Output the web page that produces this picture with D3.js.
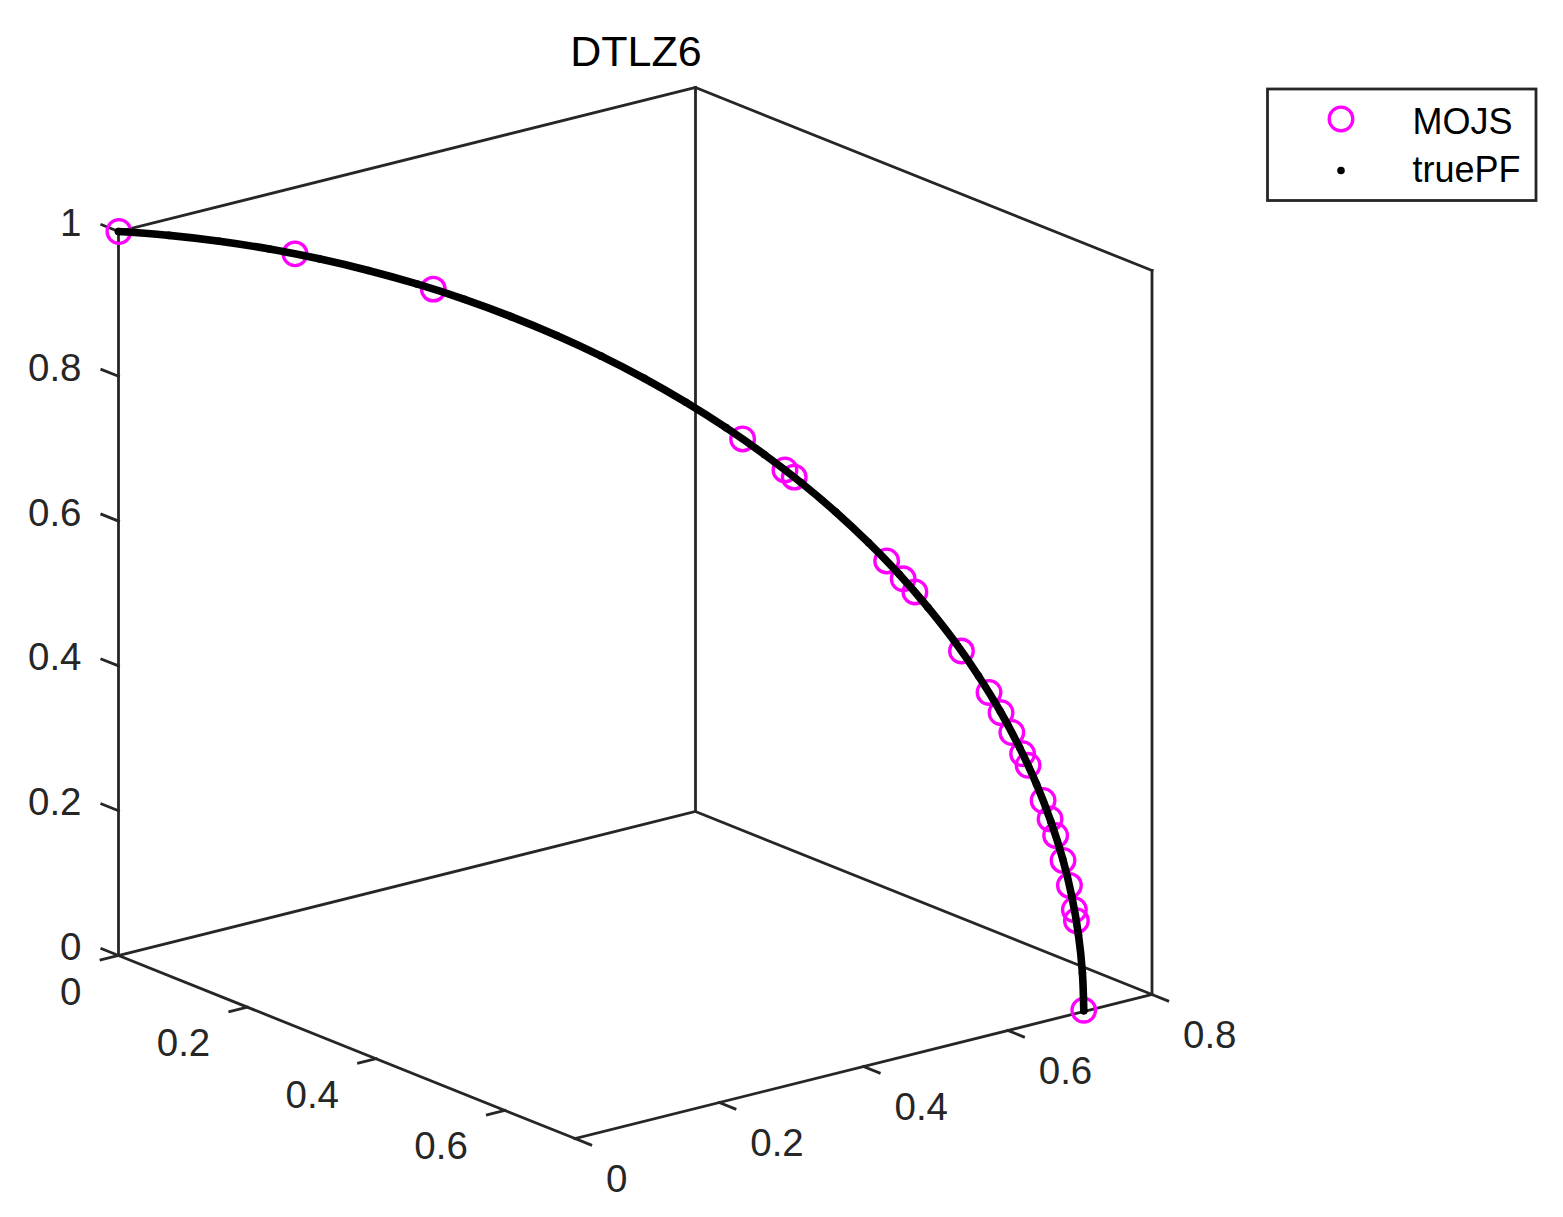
<!DOCTYPE html>
<html><head><meta charset="utf-8">
<script src="https://cdn.jsdelivr.net/npm/d3@7"></script>
<style>
body{margin:0;background:#fff}
svg{display:block}
text{font-family:"Liberation Sans",Arial,sans-serif}
</style>
</head><body>
<svg id="c" width="1563" height="1217"></svg>
<script>
// ---------------- data ----------------
const title = "DTLZ6";
const seriesNames = ["MOJS", "truePF"];
const xLim = [0, 0.709], yLim = [0, 0.8], zLim = [0, 1];
const xTicks = [0, 0.2, 0.4, 0.6];
const xTickLabels = ["0", "0.2", "0.4", "0.6"];
const yTicks = [0, 0.2, 0.4, 0.6, 0.8];
const yTickLabels = ["0", "0.2", "0.4", "0.6", "0.8"];
const zTicks = [0, 0.2, 0.4, 0.6, 0.8, 1];
const zTickLabels = ["0", "0.2", "0.4", "0.6", "0.8", "1"];

const mojsF1 = [0.0003,0.1293,0.2306,0.4572,0.4882,0.4950,0.5627,0.5748,0.5834,0.6175,0.6377,0.6465,0.6544,0.6623,0.6663,0.6773,0.6824,0.6865,0.6919,0.6966,0.7002,0.7017,0.7071];
const mojsF2 = [0.0003,0.1293,0.2306,0.4572,0.4882,0.4950,0.5627,0.5748,0.5834,0.6175,0.6377,0.6465,0.6544,0.6623,0.6663,0.6773,0.6824,0.6865,0.6919,0.6966,0.7002,0.7017,0.7071];
const mojsF3 = [1.0000,0.9831,0.9453,0.7628,0.7234,0.7141,0.6057,0.5823,0.5651,0.4871,0.4321,0.4051,0.3786,0.3502,0.3346,0.2872,0.2623,0.2399,0.2060,0.1720,0.1388,0.1238,0.0007];

const pfF1 = [0.7071,0.7061,0.7032,0.6984,0.6917,0.6830,0.6725,0.6601,0.6460,0.6300,0.6124,0.5930,0.5721,0.5495,0.5255,0.5000,0.4731,0.4450,0.4156,0.3851,0.3536,0.3210,0.2876,0.2534,0.2185,0.1830,0.1470,0.1106,0.0739,0.0370,0.0000];
const pfF2 = [0.7071,0.7061,0.7032,0.6984,0.6917,0.6830,0.6725,0.6601,0.6460,0.6300,0.6124,0.5930,0.5721,0.5495,0.5255,0.5000,0.4731,0.4450,0.4156,0.3851,0.3536,0.3210,0.2876,0.2534,0.2185,0.1830,0.1470,0.1106,0.0739,0.0370,0.0000];
const pfF3 = [0.0000,0.0523,0.1045,0.1564,0.2079,0.2588,0.3090,0.3584,0.4067,0.4540,0.5000,0.5446,0.5878,0.6293,0.6691,0.7071,0.7431,0.7771,0.8090,0.8387,0.8660,0.8910,0.9135,0.9336,0.9511,0.9659,0.9781,0.9877,0.9945,0.9986,1.0000];

// ---------------- layout ----------------
const origin = [118.5, 955.5];
const xEdge = [456.5, 183];   // screen vector of full x range
const yEdge = [577, -144];    // screen vector of full y range
const zEdge = [0, -724];      // screen vector of full z range
const axisColor = "#262626";
const fontSize = 38.5;

const svg = d3.select("#c");
svg.append("rect").attr("width",1563).attr("height",1217).attr("fill","#fff");

const sx = d3.scaleLinear().domain(xLim).range([0, 1]);
const sy = d3.scaleLinear().domain(yLim).range([0, 1]);
const sz = d3.scaleLinear().domain(zLim).range([0, 1]);

function proj(a, b, c) {
  const fa = sx(a), fb = sy(b), fc = sz(c);
  return [origin[0] + fa*xEdge[0] + fb*yEdge[0] + fc*zEdge[0],
          origin[1] + fa*xEdge[1] + fb*yEdge[1] + fc*zEdge[1]];
}
function unit(v){ const l = Math.hypot(v[0], v[1]); return [v[0]/l, v[1]/l]; }
const uX = unit(xEdge), uY = unit(yEdge);

const g = svg.append("g");
function seg(p, q, w) {
  g.append("line").attr("x1",p[0]).attr("y1",p[1]).attr("x2",q[0]).attr("y2",q[1])
    .attr("stroke",axisColor).attr("stroke-width",w||2.8).attr("stroke-linecap","square");
}
const X0=xLim[0], X1=xLim[1], Y0=yLim[0], Y1=yLim[1], Z0=zLim[0], Z1=zLim[1];
// bottom plane
seg(proj(X0,Y0,Z0), proj(X1,Y0,Z0));
seg(proj(X1,Y0,Z0), proj(X1,Y1,Z0));
seg(proj(X1,Y1,Z0), proj(X0,Y1,Z0));
seg(proj(X0,Y1,Z0), proj(X0,Y0,Z0));
// verticals
seg(proj(X0,Y0,Z0), proj(X0,Y0,Z1));
seg(proj(X0,Y1,Z0), proj(X0,Y1,Z1));
seg(proj(X1,Y1,Z0), proj(X1,Y1,Z1));
// top edges of back planes
seg(proj(X0,Y0,Z1), proj(X0,Y1,Z1));
seg(proj(X0,Y1,Z1), proj(X1,Y1,Z1));

const tickLen = 18;
// x ticks (along x axis at y=0,z=0), pointing -y
xTicks.forEach((t,i) => {
  const p = proj(t, Y0, Z0);
  seg(p, [p[0]-uY[0]*tickLen, p[1]-uY[1]*tickLen]);
  g.append("text").attr("x", p[0]-37).attr("y", p[1]+49)
    .attr("text-anchor","end").attr("font-size",fontSize).attr("fill",axisColor).text(xTickLabels[i]);
});
// y ticks (along y axis at x=max,z=0), pointing +x
yTicks.forEach((t,i) => {
  const p = proj(X1, t, Z0);
  seg(p, [p[0]+uX[0]*17, p[1]+uX[1]*17]);
  g.append("text").attr("x", p[0]+31).attr("y", p[1]+53)
    .attr("text-anchor","start").attr("font-size",fontSize).attr("fill",axisColor).text(yTickLabels[i]);
});
// z ticks (x=0,y=0), pointing -x
zTicks.forEach((t,i) => {
  const p = proj(X0, Y0, t);
  seg(p, [p[0]-uX[0]*tickLen, p[1]-uX[1]*tickLen]);
  g.append("text").attr("x", p[0]-37).attr("y", p[1]+4.5)
    .attr("text-anchor","end").attr("font-size",fontSize).attr("fill",axisColor).text(zTickLabels[i]);
});

// MOJS circles
const mojs = mojsF1.map((v,i) => proj(v, mojsF2[i], mojsF3[i]));
svg.append("g").selectAll("circle").data(mojs).join("circle")
  .attr("cx", d => d[0]).attr("cy", d => d[1]).attr("r", 11.8)
  .attr("fill","none").attr("stroke","#ff00ff").attr("stroke-width",3.3);

// truePF
const pf = pfF1.map((v,i) => proj(v, pfF2[i], pfF3[i]));
svg.append("path").datum(pf)
  .attr("d", d3.line().x(d=>d[0]).y(d=>d[1]).curve(d3.curveCatmullRom))
  .attr("fill","none").attr("stroke","#000").attr("stroke-width",7.6)
  .attr("stroke-linecap","round").attr("stroke-linejoin","round");
svg.append("g").selectAll("circle").data(pf).join("circle")
  .attr("cx", d => d[0]).attr("cy", d => d[1]).attr("r", 3.8).attr("fill","#000");

// title
svg.append("text").attr("x",636).attr("y",66).attr("text-anchor","middle")
  .attr("font-size",43).attr("fill","#000").text(title);

// legend
const lg = svg.append("g");
lg.append("rect").attr("x",1267.5).attr("y",89).attr("width",268.5).attr("height",111.5)
  .attr("fill","#fff").attr("stroke",axisColor).attr("stroke-width",2.8);
lg.append("circle").attr("cx",1341).attr("cy",119).attr("r",11.8)
  .attr("fill","none").attr("stroke","#ff00ff").attr("stroke-width",3.3);
lg.append("circle").attr("cx",1341).attr("cy",170.5).attr("r",3.8).attr("fill","#000");
lg.append("text").attr("x",1412.5).attr("y",134).attr("font-size",36).attr("fill","#000").text(seriesNames[0]);
lg.append("text").attr("x",1412.5).attr("y",181.5).attr("font-size",36).attr("fill","#000").text(seriesNames[1]);
</script>
</body></html>
